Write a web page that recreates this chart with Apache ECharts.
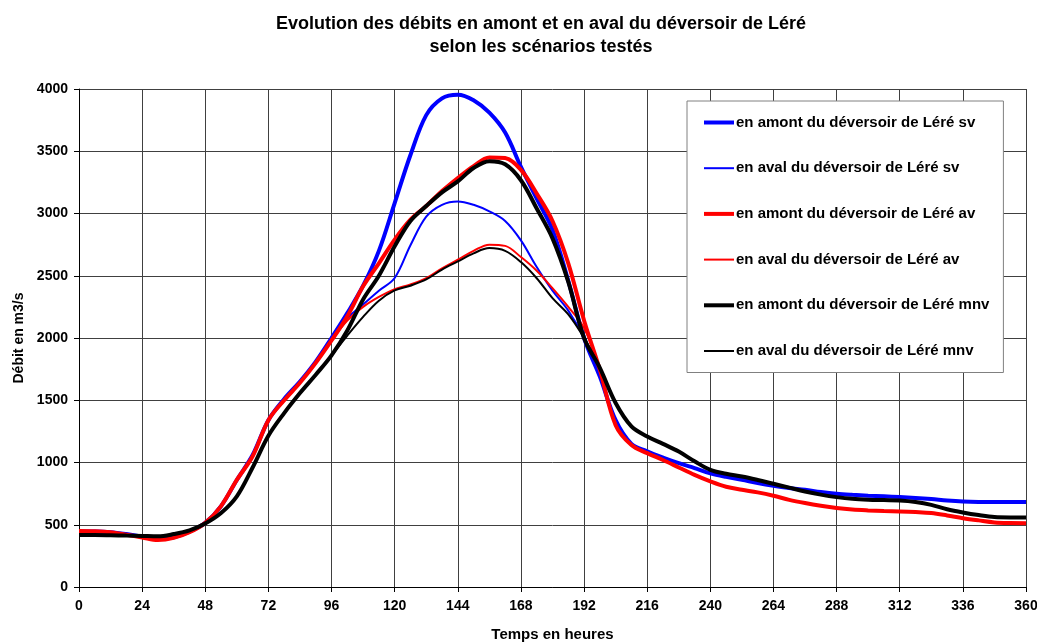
<!DOCTYPE html>
<html>
<head>
<meta charset="utf-8">
<script src="https://cdn.jsdelivr.net/npm/echarts@6/dist/echarts.min.js"></script>
<style>
html,body{margin:0;padding:0;background:#fff;}
#chart{width:1037px;height:642px;}
</style>
</head>
<body>
<div id="chart"></div>
<script>
// Hours (x values), every 6 h
const hours = [0,6,12,18,24,30,36,42,48,54,60,66,72,78,84,90,96,102,108,114,120,126,132,138,144,150,156,162,168,174,180,186,192,198,204,210,216,222,228,234,240,246,252,258,264,270,276,282,288,294,300,306,312,318,324,330,336,342,348,354,360];

const amontSv = [445,445,440,425,405,385,400,445,515,650,860,1060,1340,1510,1650,1810,2000,2200,2420,2700,3084,3470,3790,3925,3954,3910,3810,3650,3374,3120,2870,2460,2000,1690,1340,1150,1090,1040,995,955,914,885,861,835,813,795,781,763,749,740,733,728,722,715,706,695,687,683,682,682,682];
const avalSv  = [445,445,440,425,405,385,400,445,515,650,860,1060,1340,1510,1650,1810,2000,2160,2270,2380,2482,2745,2975,3070,3097,3070,3017,2940,2784,2570,2380,2220,2000,1690,1340,1150,1090,1040,995,955,914,885,861,835,813,795,781,763,749,740,733,728,722,715,706,695,687,683,682,682,682];
const amontAv = [450,448,440,420,398,378,395,440,515,650,860,1050,1340,1500,1640,1800,1980,2175,2415,2600,2790,2950,3060,3180,3285,3380,3450,3445,3350,3160,2940,2600,2141,1745,1300,1140,1075,1020,960,900,848,805,781,760,733,700,674,652,634,622,615,610,607,602,594,575,553,535,519,514,513];
const avalAv  = [450,448,440,420,398,378,395,440,515,650,860,1050,1340,1500,1640,1800,1980,2140,2250,2330,2393,2430,2480,2560,2629,2700,2750,2740,2650,2540,2400,2250,2080,1745,1300,1140,1075,1020,960,900,848,805,781,760,733,700,674,652,634,622,615,610,607,602,594,575,553,535,519,514,513];
const amontMnv = [418,418,416,413,410,407,425,455,510,594,728,960,1215,1397,1558,1705,1860,2060,2310,2500,2736,2940,3060,3170,3258,3365,3420,3395,3267,3040,2800,2450,2000,1760,1478,1290,1209,1150,1088,1010,941,910,888,860,829,798,767,742,722,708,701,698,695,683,660,625,599,578,562,559,559];
const avalMnv  = [418,418,416,413,410,407,425,455,510,594,728,960,1215,1397,1558,1705,1860,2020,2170,2300,2382,2420,2470,2550,2615,2680,2722,2700,2610,2480,2320,2190,2000,1760,1478,1290,1209,1150,1088,1010,941,910,888,860,829,798,767,742,722,708,701,698,695,683,660,625,599,578,562,559,559];

const seriesNames = [
  'en amont du déversoir de Léré sv',
  'en aval du déversoir de Léré sv',
  'en amont du déversoir de Léré av',
  'en aval du déversoir de Léré av',
  'en amont du déversoir de Léré mnv',
  'en aval du déversoir de Léré mnv'
];
const seriesValues = [amontSv, avalSv, amontAv, avalAv, amontMnv, avalMnv];
const seriesColors = ['#0000FF','#0000FF','#FF0000','#FF0000','#000000','#000000'];
const seriesWidths = [4,2,4,2,4,2];

const titleText = 'Evolution des débits en amont et en aval du déversoir de Léré\nselon les scénarios testés';
const xName = 'Temps en heures';
const yName = 'Débit en m3/s';

const FONT = 'Arial, "Liberation Sans", sans-serif';

const chart = echarts.init(document.getElementById('chart'), null, {renderer:'canvas'});

const series = seriesNames.map((name, i) => ({
  name: name,
  type: 'line',
  smooth: 0.35,
  symbol: 'none',
  showSymbol: false,
  animation: false,
  data: hours.map((h, j) => [h, seriesValues[i][j]]),
  lineStyle: {color: seriesColors[i], width: seriesWidths[i]},
  itemStyle: {color: seriesColors[i]},
  z: 2 + i
}));

chart.setOption({
  animation: false,
  backgroundColor: '#ffffff',
  title: {
    text: titleText,
    left: 536,
    textAlign: 'center',
    top: 8,
    textStyle: {fontFamily: FONT, fontSize: 18, fontWeight: 'bold', color: '#000', lineHeight: 23}
  },
  grid: {left: 79, right: 11, top: 89, bottom: 55, containLabel: false, outerBoundsMode: 'none'},
  legend: {
    orient: 'vertical',
    left: 687,
    top: 101,
    padding: [14, 14, 14, 15],
    itemGap: 30.7,
    itemWidth: 30,
    itemHeight: 14,
    backgroundColor: '#ffffff',
    borderColor: '#808080',
    borderWidth: 1,
    itemStyle: {color: 'transparent', borderWidth: 0, opacity: 0},
    textStyle: {fontFamily: FONT, fontSize: 15, fontWeight: 'bold', color: '#000', padding: [0,0,0,-3]},
    data: seriesNames.map((n, i) => ({
      name: n,
      itemStyle: {color: 'transparent', borderWidth: 0, opacity: 0},
      lineStyle: {color: seriesColors[i], width: seriesWidths[i]}
    })),
    z: 10
  },
  xAxis: {
    type: 'value',
    min: 0, max: 360, interval: 24,
    name: xName,
    nameLocation: 'middle',
    nameGap: 40,
    nameTextStyle: {fontFamily: FONT, fontSize: 15, fontWeight: 'bold', color: '#000'},
    axisLine: {show: true, lineStyle: {color: '#000', width: 1}},
    axisTick: {show: true, length: 5, lineStyle: {color: '#000'}},
    axisLabel: {fontFamily: FONT, fontSize: 14, fontWeight: 'bold', color: '#000', margin: 12},
    splitLine: {show: true, lineStyle: {color: '#404040', width: 1}}
  },
  yAxis: {
    type: 'value',
    min: 0, max: 4000, interval: 500,
    name: yName,
    nameLocation: 'middle',
    nameRotate: 90,
    nameGap: 51,
    nameTextStyle: {fontFamily: FONT, fontSize: 14, fontWeight: 'bold', color: '#000'},
    axisLine: {show: true, lineStyle: {color: '#000', width: 1}},
    axisTick: {show: true, length: 5, lineStyle: {color: '#000'}},
    axisLabel: {fontFamily: FONT, fontSize: 14, fontWeight: 'bold', color: '#000', margin: 11,
      formatter: v => String(v)},
    splitLine: {show: true, lineStyle: {color: '#404040', width: 1}}
  },
  series: series
});
</script>
</body>
</html>
